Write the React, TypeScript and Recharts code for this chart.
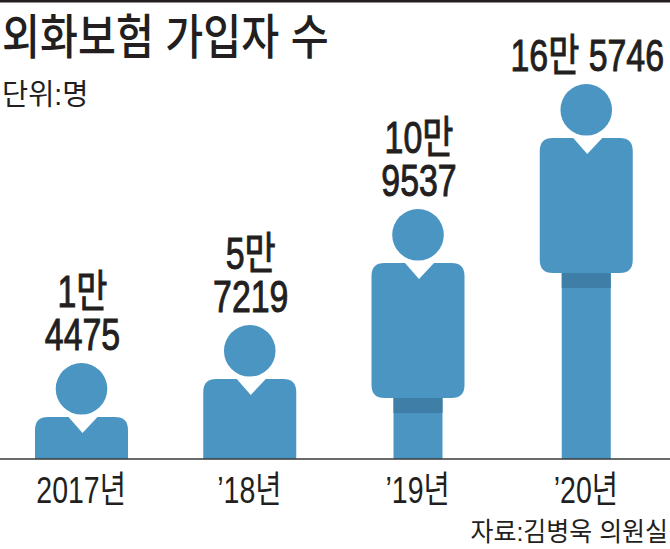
import React from "react";
import { BarChart, Bar, XAxis, YAxis, LabelList } from "recharts";

// 사람 그림은 실제 수치에 비례하지 않아서, 그림 높이를 따로 읽어 둠
const years = ["2017년", "’18년", "’19년", "’20년"];
const subscribers = [14475, 57219, 109537, 165746];
const figureHeights = [96, 134, 250, 375];
const countLabels = [["1만", "4475"], ["5만", "7219"], ["10만", "9537"], ["16만 5746"]];

const data = years.map((year, i) => ({ year, subscribers: subscribers[i], figureHeight: figureHeights[i] }));

const BLUE = "#4b95c3";
const BAND = "#3f7ea6";
const INK = "#231f20";
const FONT = '"Liberation Sans", "Noto Sans CJK KR", sans-serif';

function SquashedText({ x, y, sx, size, weight = 400, anchor = "start", outline = 0, children }: any) {
  return (
    <text
      transform={`translate(${x},${y}) scale(${sx},1)`}
      fontFamily={FONT}
      fontSize={size}
      fontWeight={weight}
      fill={INK}
      stroke={outline ? INK : "none"}
      strokeWidth={outline}
      textAnchor={anchor}
    >
      {children}
    </text>
  );
}

function Person({ x, y, width, height }: any) {
  const cx = x + width / 2;
  const base = y + height;
  const top = y + 54;
  const r = 13;
  const left = x;
  const right = x + width;
  const bodyEnd = top + 135;
  const hasLegs = bodyEnd < base;
  const bottom = hasLegs ? bodyEnd : base;
  const body =
    `M${left},${bottom} L${left},${top + r} Q${left},${top} ${left + r},${top} ` +
    `L${cx - 13},${top} L${cx + 1},${top + 16} L${cx + 16},${top} L${right - r},${top} ` +
    `Q${right},${top} ${right},${top + r} ` +
    (hasLegs
      ? `L${right},${bottom - r} Q${right},${bottom} ${right - r},${bottom} L${left + r},${bottom} Q${left},${bottom} ${left},${bottom - r} Z`
      : `L${right},${bottom} Z`);
  return (
    <g>
      <circle cx={cx} cy={y + 25.8} r={25.8} fill={BLUE} />
      {hasLegs && <rect x={cx - 24.5} y={bodyEnd - 1} width={49} height={base - bodyEnd + 1} fill={BLUE} />}
      {hasLegs && <rect x={cx - 24.5} y={bodyEnd} width={49} height={15} fill={BAND} />}
      <path d={body} fill={BLUE} />
    </g>
  );
}

function CountLabel({ x, y, width, index }: any) {
  const lines = countLabels[index];
  const cx = x + width / 2;
  return (
    <g>
      {lines.map((line: string, i: number) => (
        <SquashedText
          key={line}
          x={cx + 1}
          y={y - 13 - (lines.length - 1 - i) * 43}
          sx={0.77}
          size={44}
          outline={1}
          anchor="middle"
        >
          {line}
        </SquashedText>
      ))}
    </g>
  );
}

function YearTick({ x, y, payload }: any) {
  return (
    <SquashedText x={x} y={y + 36} sx={0.77} size={37} anchor="middle">
      {payload.value}
    </SquashedText>
  );
}

export default function App() {
  return (
    <div style={{ position: "absolute", left: 0, top: 0, width: 670, height: 549 }}>
      <BarChart
        width={670}
        height={549}
        data={data}
        margin={{ top: 0, right: 0, bottom: 0, left: -3 }}
        barSize={93}
      >
        <rect x={0} y={0} width={670} height={2.5} fill={INK} />
        <SquashedText x={2} y={54} sx={0.86} size={48} weight={500}>
          외화보험 가입자 수
        </SquashedText>
        <SquashedText x={2} y={105} sx={0.98} size={29}>
          단위:명
        </SquashedText>
        <SquashedText x={668} y={541} sx={0.96} size={26} anchor="end">
          자료:김병욱 의원실
        </SquashedText>
        <XAxis
          dataKey="year"
          height={90}
          interval={0}
          tickLine={false}
          axisLine={{ stroke: "#3a3a3a", strokeWidth: 1.5 }}
          tick={<YearTick />}
        />
        <YAxis hide domain={[0, 459]} />
        <Bar dataKey="figureHeight" shape={<Person />} isAnimationActive={false}>
          <LabelList dataKey="subscribers" content={<CountLabel />} />
        </Bar>
      </BarChart>
    </div>
  );
}
